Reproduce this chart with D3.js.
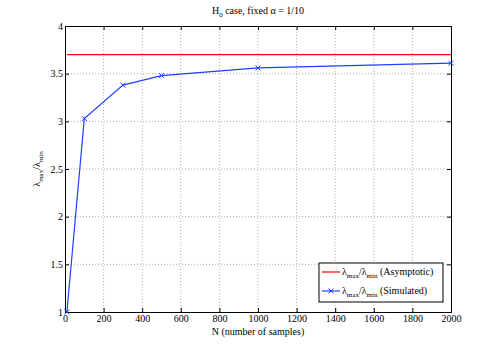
<!DOCTYPE html>
<html>
<head>
<meta charset="utf-8">
<script src="https://cdn.jsdelivr.net/npm/d3@7"></script>
<style>
  body { margin: 0; background: #fff; }
  svg text { font-family: "Liberation Serif", "Times New Roman", Times, serif; fill: #000; }
</style>
</head>
<body>
<div id="chart"></div>
<script>
// data
const sampleN = [10, 100, 300, 500, 1000, 2000];
const simulated = [1, 3.03, 3.38, 3.48, 3.56, 3.61];
const asymptotic = 3.70;
const xTicks = [0, 200, 400, 600, 800, 1000, 1200, 1400, 1600, 1800, 2000];
const yTicks = [1, 1.5, 2, 2.5, 3, 3.5, 4];

const width = 498, height = 351,
  margin = { top: 26, bottom: 39, left: 65, right: 47 };
const serif = "'Liberation Serif', 'Times New Roman', Times, serif";

const svg = d3.select("#chart").append("svg")
  .attr("width", width)
  .attr("height", height)
  .attr("font-family", serif);

const x = d3.scaleLinear().domain([0, 2000]).range([margin.left, width - margin.right]);
const y = d3.scaleLinear().domain([1, 4]).range([height - margin.bottom, margin.top]);

// grid
svg.append("g").selectAll("line")
  .data(xTicks.slice(1, -1))
  .join("line")
  .attr("x1", d => x(d)).attr("x2", d => x(d))
  .attr("y1", y(1)).attr("y2", y(4))
  .attr("stroke", "#b0b0b0").attr("stroke-dasharray", "1,2");
svg.append("g").selectAll("line")
  .data(yTicks.slice(1, -1))
  .join("line")
  .attr("x1", x(0)).attr("x2", x(2000))
  .attr("y1", d => y(d)).attr("y2", d => y(d))
  .attr("stroke", "#b0b0b0").attr("stroke-dasharray", "1,2");

// axes
const xAxis = svg.append("g")
  .attr("transform", `translate(0,${y(1)})`)
  .call(d3.axisBottom(x).tickValues(xTicks).tickSize(-4).tickPadding(3).tickFormat(d3.format("d")));
const xTop = svg.append("g")
  .attr("transform", `translate(0,${y(4)})`)
  .call(d3.axisTop(x).tickValues(xTicks).tickSize(-4).tickFormat(""));
const yAxis = svg.append("g")
  .attr("transform", `translate(${x(0)},0)`)
  .call(d3.axisLeft(y).tickValues(yTicks).tickSize(-4).tickPadding(2).tickFormat(d3.format("")));
const yRight = svg.append("g")
  .attr("transform", `translate(${x(2000)},0)`)
  .call(d3.axisRight(y).tickValues(yTicks).tickSize(-4).tickFormat(""));

[xAxis, xTop, yAxis, yRight].forEach(g => {
  g.attr("font-family", serif).attr("font-size", 10);
  g.select(".domain").attr("stroke", "#000").attr("stroke-width", 1);
  g.selectAll(".tick line").attr("stroke", "#000");
  g.selectAll("text").attr("fill", "#222");
});

// asymptotic line
svg.append("line")
  .attr("x1", x(0) + 2).attr("x2", x(2000))
  .attr("y1", y(asymptotic)).attr("y2", y(asymptotic))
  .attr("stroke", "#ff0000").attr("stroke-width", 1.2);

// simulated line
const pts = sampleN.map((n, i) => [n, simulated[i]]);
svg.append("path")
  .datum(pts)
  .attr("fill", "none")
  .attr("stroke", "#1f3fff")
  .attr("stroke-width", 1.2)
  .attr("d", d3.line().x(d => x(d[0])).y(d => y(d[1])));

svg.append("g").selectAll("path")
  .data(pts)
  .join("path")
  .attr("transform", d => `translate(${x(d[0])},${y(d[1])})`)
  .attr("d", d3.symbol(d3.symbolX, 18))
  .attr("stroke", "#1f3fff")
  .attr("stroke-width", 1);

// title
const title = svg.append("text")
  .attr("x", (x(0) + x(2000)) / 2)
  .attr("y", 14)
  .attr("text-anchor", "middle")
  .style("font-size", "10px");
title.append("tspan").text("H");
title.append("tspan").attr("dy", 3).style("font-size", "7px").text("0");
title.append("tspan").attr("dy", -3).text(" case, fixed α = 1/10");

// x label
svg.append("text")
  .attr("x", (x(0) + x(2000)) / 2)
  .attr("y", y(1) + 23)
  .attr("text-anchor", "middle")
  .style("font-size", "10px")
  .text("N (number of samples)");

// y label
const yl = svg.append("text")
  .attr("transform", `translate(40,${y(2.5)}) rotate(-90)`)
  .attr("text-anchor", "middle")
  .style("font-size", "10px");
yl.append("tspan").text("λ");
yl.append("tspan").attr("dy", 3).style("font-size", "7px").text("max");
yl.append("tspan").attr("dy", -3).text("/λ");
yl.append("tspan").attr("dy", 3).style("font-size", "7px").text("min");

// legend
const lg = svg.append("g").attr("transform", "translate(319,263)");
lg.append("rect")
  .attr("width", 124).attr("height", 39)
  .attr("fill", "#fff").attr("stroke", "#000");
const entries = [
  { color: "#ff0000", marker: false, label: "(Asymptotic)" },
  { color: "#1f3fff", marker: true, label: "(Simulated)" }
];
entries.forEach((e, i) => {
  const cy = 9 + i * 19;
  lg.append("line").attr("x1", 3).attr("x2", 21).attr("y1", cy).attr("y2", cy)
    .attr("stroke", e.color).attr("stroke-width", 1.2);
  if (e.marker) {
    lg.append("path").attr("transform", `translate(12,${cy})`)
      .attr("d", d3.symbol(d3.symbolX, 18)).attr("stroke", e.color);
  }
  const t = lg.append("text").attr("x", 23).attr("y", cy + 3).style("font-size", "10px");
  t.append("tspan").text("λ");
  t.append("tspan").attr("dy", 3).style("font-size", "7px").text("max");
  t.append("tspan").attr("dy", -3).text("/λ");
  t.append("tspan").attr("dy", 3).style("font-size", "7px").text("min");
  t.append("tspan").attr("dy", -3).text(" " + e.label);
});
</script>
</body>
</html>
